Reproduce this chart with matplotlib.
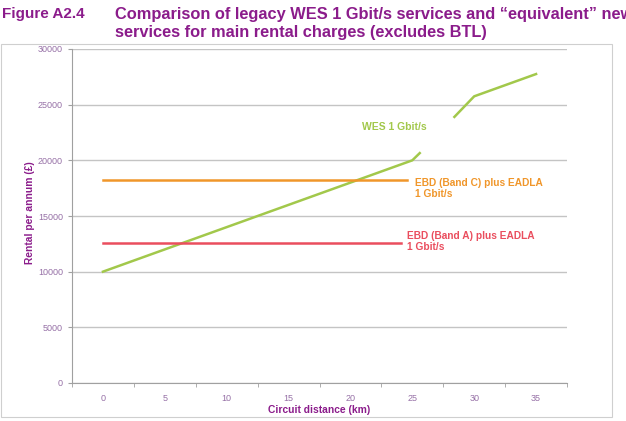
import matplotlib.pyplot as plt
from matplotlib.patches import Rectangle

plt.rcParams["font.family"] = ["Liberation Sans", "DejaVu Sans"]

# Data
wes_x1 = [0, 25, 25.6]
wes_y1 = [10000, 20000, 20650]
wes_x2 = [28.4, 30, 35]
wes_y2 = [23900, 25750, 27750]
band_c_x = [0, 24.6]
band_c_y = [18250, 18250]
band_a_x = [0, 24.1]
band_a_y = [12600, 12600]
x_ticks = [0, 5, 10, 15, 20, 25, 30, 35]
y_ticks = [0, 5000, 10000, 15000, 20000, 25000, 30000]

purple = "#8B1C8B"
label_col = "#9670A6"
green = "#A2C84B"
orange = "#F0962A"
red = "#EA4E5E"
grid_col = "#C4C4C4"

fig = plt.figure(figsize=(6.26, 4.21), dpi=100)

# chart frame
fig.patches.append(Rectangle((1 / 626, 1 - 417 / 421), 611 / 626, 373 / 421,
                             transform=fig.transFigure, fill=False,
                             edgecolor="#CFCFCF", linewidth=0.8))

fig.text(2 / 626, 1 - 14 / 421, "Figure A2.4", color=purple, fontsize=11,
         fontweight="bold", va="center", ha="left")
fig.text(115 / 626, 1 - 14 / 421,
         "Comparison of legacy WES 1 Gbit/s services and \u201cequivalent\u201d new",
         color=purple, fontsize=11.8, fontweight="bold", va="center", ha="left")
fig.text(115 / 626, 1 - 33 / 421,
         "services for main rental charges (excludes BTL)",
         color=purple, fontsize=11.8, fontweight="bold", va="center", ha="left")

ax = fig.add_axes([72 / 626, 1 - 383 / 421, 495 / 626, 334 / 421])

ax.plot(wes_x1, wes_y1, color=green, linewidth=1.8)
ax.plot(wes_x2, wes_y2, color=green, linewidth=1.8)
ax.plot(band_c_x, band_c_y, color=orange, linewidth=1.8)
ax.plot(band_a_x, band_a_y, color=red, linewidth=1.8)

ax.set_xlim(-2.5, 37.5)
ax.set_ylim(0, 30000)
ax.set_xticks(x_ticks)
ax.set_xticks([t + 2.5 for t in [-5] + x_ticks], minor=True)
ax.set_yticks(y_ticks)
ax.tick_params(axis="x", which="major", length=0, labelsize=6.5, labelcolor=label_col, pad=8)
ax.tick_params(axis="x", which="minor", length=3, color="#A0A0A0", direction="out")
ax.tick_params(axis="y", length=3, color="#A0A0A0", labelsize=6.5, labelcolor=label_col)

ax.grid(axis="y", color=grid_col, linewidth=1)
ax.set_axisbelow(True)
for side in ["top", "right"]:
    ax.spines[side].set_visible(False)
ax.spines["left"].set_color("#A0A0A0")
ax.spines["bottom"].set_color("#A0A0A0")

ax.set_xlabel("Circuit distance (km)", color=purple, fontsize=7.4, fontweight="bold")
ax.set_ylabel("Rental per annum (\u00a3)", color=purple, fontsize=7.4, fontweight="bold")
ax.xaxis.set_label_coords(0.5, -(410 - 383) / 334, transform=ax.transAxes)
ax.xaxis.label.set_va("center")
ax.yaxis.set_label_coords(-(72 - 30) / 495, (383 - 213) / 334, transform=ax.transAxes)
ax.yaxis.label.set_va("center")

ax.text(20.9, 23000, "WES 1 Gbit/s", color=green, fontsize=7.5, fontweight="bold", va="center")
ax.text(25.2, 17500, "EBD (Band C) plus EADLA\n1 Gbit/s", color=orange, fontsize=7.3,
        fontweight="bold", va="center", linespacing=1.1)
ax.text(24.6, 12700, "EBD (Band A) plus EADLA\n1 Gbit/s", color=red, fontsize=7.3,
        fontweight="bold", va="center", linespacing=1.1)

fig.savefig("out.png", dpi=100)
